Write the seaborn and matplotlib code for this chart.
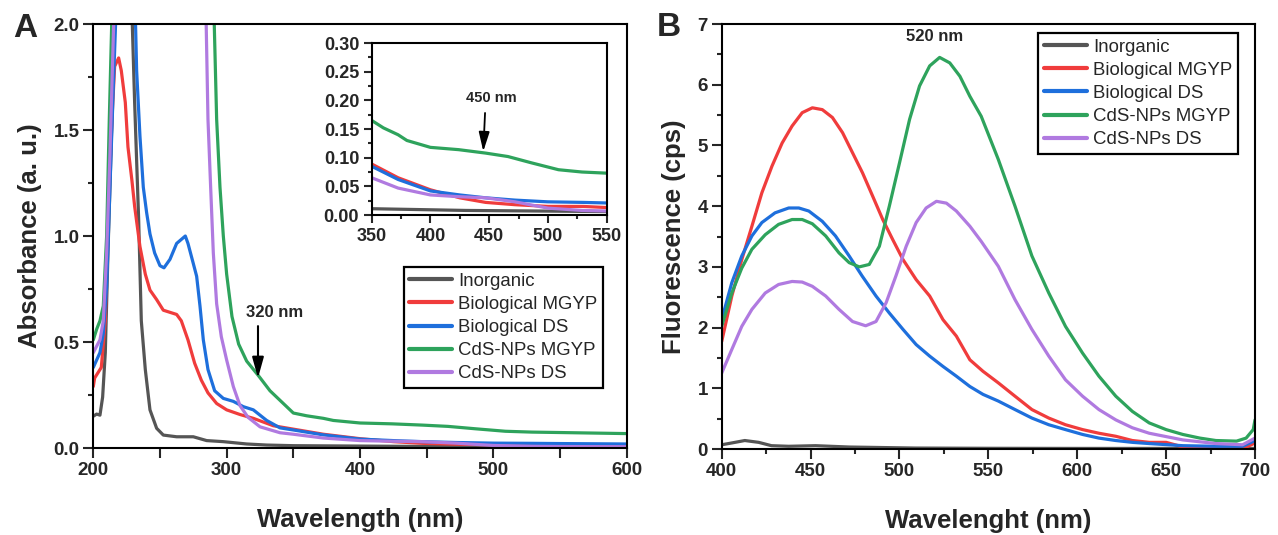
import numpy as np
import pandas as pd
import matplotlib
matplotlib.use("Agg")
import matplotlib.pyplot as plt
from matplotlib.ticker import MultipleLocator
import seaborn as sns

# ---- data ----
samples = ["Inorganic", "Biological MGYP", "Biological DS", "CdS-NPs MGYP", "CdS-NPs DS"]
colors = ["#555555", "#F03C3C", "#1E6FDC", "#2EA35C", "#B07AE0"]

# panel A: UV-vis absorbance
abs_inorg_wl = [200, 202.5, 205, 207, 209, 211, 214, 216, 222, 229, 231, 234, 236, 239, 242.5,
                247.5, 252.5, 262.5, 275, 285, 297.5, 315, 330, 350, 430, 550, 600]
abs_inorg = [0.15, 0.16, 0.155, 0.24, 0.45, 0.92, 1.55, 2.05, 2.6, 2.05, 1.63, 1.08, 0.60, 0.37, 0.18,
             0.093, 0.061, 0.053, 0.053, 0.035, 0.03, 0.019, 0.014, 0.011, 0.008, 0.006, 0.005]

abs_bmgyp_wl = [200, 201, 204, 206, 209, 211, 214, 216, 219, 221, 224, 226, 229, 231, 235, 239, 242.5,
                247.5, 252.5, 257.5, 262.5, 266, 271, 276, 281, 286, 292.5, 300, 310, 320, 335, 350,
                372.5, 400, 425, 447, 472, 500, 530, 550, 600]
abs_bmgyp = [0.29, 0.33, 0.36, 0.38, 0.60, 1.08, 1.55, 1.80, 1.84, 1.78, 1.63, 1.42, 1.26, 1.14, 0.95,
             0.82, 0.745, 0.70, 0.65, 0.64, 0.63, 0.60, 0.51, 0.40, 0.32, 0.26, 0.21, 0.18, 0.158, 0.14,
             0.105, 0.089, 0.065, 0.044, 0.030, 0.022, 0.018, 0.015, 0.015, 0.013, 0.012]

abs_bds_wl = [200, 202.5, 205, 207.5, 210, 212.5, 215, 217, 222, 228, 231.5, 232.5, 235, 237.5, 240,
              242.5, 246, 250, 253, 257.5, 262.5, 269, 271, 275, 277.5, 280, 282.5, 286, 291, 297.5,
              305, 312.5, 320, 330, 340, 350, 372.5, 400, 425, 447, 472, 500, 530, 550, 600]
abs_bds = [0.38, 0.415, 0.45, 0.54, 0.76, 1.23, 1.70, 2.05, 2.6, 2.6, 2.05, 1.78, 1.47, 1.23, 1.11,
           1.01, 0.92, 0.86, 0.85, 0.89, 0.965, 1.00, 0.965, 0.87, 0.81, 0.67, 0.51, 0.37, 0.27, 0.234,
           0.22, 0.195, 0.18, 0.13, 0.095, 0.085, 0.062, 0.042, 0.035, 0.030, 0.026, 0.023, 0.022,
           0.021, 0.019]

abs_cmgyp_wl = [200, 202.5, 205, 207.5, 210, 212, 214, 220, 250, 285, 290.5, 292.5, 295, 297.5, 300,
                304, 309, 315, 324, 332.5, 345, 350, 360, 372.5, 380, 400, 424, 447, 466, 486, 509,
                529, 550, 600]
abs_cmgyp = [0.51, 0.56, 0.60, 0.67, 1.00, 1.55, 2.05, 2.6, 2.6, 2.6, 2.05, 1.55, 1.23, 1.0, 0.82,
             0.62, 0.49, 0.41, 0.34, 0.27, 0.195, 0.165, 0.152, 0.140, 0.13, 0.118, 0.114, 0.108,
             0.102, 0.091, 0.079, 0.075, 0.073, 0.068]

abs_cds_wl = [200, 202.5, 205, 207.5, 210, 212.5, 215.5, 220, 250, 280, 284.5, 286, 288, 290, 292.5,
              296, 300, 305, 310, 316, 325, 340, 350, 372.5, 400, 424, 447, 472, 500, 529, 550, 600]
abs_cds = [0.45, 0.48, 0.51, 0.60, 0.92, 1.39, 2.05, 2.6, 2.6, 2.6, 2.05, 1.55, 1.23, 0.92, 0.68,
           0.525, 0.415, 0.29, 0.20, 0.145, 0.10, 0.072, 0.065, 0.047, 0.035, 0.032, 0.030, 0.023,
           0.012, 0.008, 0.007, 0.006]

# panel B: fluorescence
fl_inorg_wl = [400, 405.7, 413, 420.8, 428, 437.7, 452.8, 471.7, 509, 550, 600, 650, 700]
fl_inorg = [0.07, 0.10, 0.14, 0.11, 0.055, 0.045, 0.055, 0.033, 0.016, 0.012, 0.01, 0.01, 0.01]

fl_bmgyp_wl = [400, 405.7, 411.3, 417, 422.6, 428.3, 434, 439.6, 445.3, 451, 456.6, 462.3, 468, 473.6,
               479.2, 485, 490.6, 496.2, 502, 509.4, 517, 524.5, 532, 539.6, 547, 555.6, 565, 574.5,
               584, 593.4, 603, 612.2, 621.7, 631, 640.5, 650, 660, 680, 695, 700]
fl_bmgyp = [1.77, 2.52, 3.12, 3.67, 4.22, 4.66, 5.04, 5.32, 5.54, 5.62, 5.59, 5.46, 5.21, 4.88, 4.55,
            4.16, 3.78, 3.45, 3.12, 2.79, 2.52, 2.13, 1.86, 1.47, 1.28, 1.09, 0.87, 0.65, 0.51, 0.40,
            0.32, 0.26, 0.21, 0.14, 0.11, 0.11, 0.03, 0.01, 0.03, 0.10]

fl_bds_wl = [400, 405.7, 411.3, 417, 422.6, 430, 437.7, 443.4, 449, 456.6, 464, 471.7, 479, 486.8,
             494.3, 502, 509.4, 517, 524.5, 532, 539.6, 547, 555.6, 565, 574.5, 584, 593.4, 603,
             612.2, 621.7, 631, 640.5, 659.4, 678, 693, 700]
fl_bds = [2.13, 2.74, 3.18, 3.51, 3.73, 3.89, 3.97, 3.97, 3.92, 3.75, 3.51, 3.18, 2.85, 2.52, 2.24,
          1.97, 1.72, 1.53, 1.36, 1.20, 1.03, 0.90, 0.79, 0.65, 0.51, 0.40, 0.32, 0.24, 0.18, 0.14,
          0.11, 0.09, 0.055, 0.045, 0.045, 0.14]

fl_cmgyp_wl = [400, 405.7, 411.3, 417, 424.5, 432, 439.6, 445.3, 451, 458.5, 466, 471.7, 477.4, 483,
               488.7, 494.3, 500, 505.7, 511.3, 517, 522.6, 528.3, 534, 539.6, 546, 555.6, 565, 574.5,
               584, 593.4, 603, 612.2, 621.7, 631, 640.5, 650, 659.4, 669, 678, 689.6, 695, 699, 700]
fl_cmgyp = [2.02, 2.57, 2.98, 3.29, 3.53, 3.70, 3.78, 3.78, 3.71, 3.51, 3.23, 3.07, 3.00, 3.04, 3.34,
            4.0, 4.71, 5.43, 5.98, 6.31, 6.45, 6.36, 6.14, 5.81, 5.48, 4.77, 4.0, 3.18, 2.57, 2.02,
            1.58, 1.20, 0.87, 0.62, 0.43, 0.32, 0.24, 0.18, 0.14, 0.13, 0.18, 0.32, 0.48]

fl_cds_wl = [400, 405.7, 411.3, 417, 424.5, 432, 439.6, 445.3, 451, 458.5, 466, 473.6, 481, 486.8,
             492.5, 498, 503.8, 509.4, 515, 520.8, 526.4, 532, 539.6, 546, 555.6, 565, 574.5, 584,
             593.4, 603, 612.2, 621.7, 631, 640.5, 659.4, 678, 693, 700]
fl_cds = [1.25, 1.64, 2.02, 2.30, 2.57, 2.71, 2.76, 2.75, 2.68, 2.52, 2.30, 2.10, 2.03, 2.10, 2.41,
          2.85, 3.34, 3.73, 3.97, 4.08, 4.05, 3.92, 3.67, 3.42, 3.01, 2.46, 1.97, 1.53, 1.14, 0.87,
          0.65, 0.48, 0.35, 0.26, 0.15, 0.09, 0.07, 0.18]

abs_series = [(abs_inorg_wl, abs_inorg), (abs_bmgyp_wl, abs_bmgyp), (abs_bds_wl, abs_bds),
              (abs_cmgyp_wl, abs_cmgyp), (abs_cds_wl, abs_cds)]
fl_series = [(fl_inorg_wl, fl_inorg), (fl_bmgyp_wl, fl_bmgyp), (fl_bds_wl, fl_bds),
             (fl_cmgyp_wl, fl_cmgyp), (fl_cds_wl, fl_cds)]

# ---- style ----
sns.set_style("ticks")
plt.rcParams["font.family"] = ["Liberation Sans", "DejaVu Sans"]
plt.rcParams["axes.linewidth"] = 1.5

LW = 2.3
fig = plt.figure(figsize=(12.78, 5.35), dpi=100)
axA = fig.add_axes([0.0730, 0.1626, 0.4174, 0.7925])
axB = fig.add_axes([0.5647, 0.1607, 0.4173, 0.7944])
axI = fig.add_axes([0.2908, 0.5981, 0.1839, 0.3215])


def draw(ax, series, legend=True):
    for name, col, (x, y) in zip(samples, colors, series):
        sns.lineplot(x=x, y=y, ax=ax, color=col, lw=LW, label=name if legend else None,
                     estimator=None, sort=False, legend=False)


def style_ticks(ax, size, major_len=7, minor_len=3.5):
    ax.tick_params(which="major", direction="out", length=major_len, width=1.5,
                   labelsize=size, top=False, right=False, pad=3)
    ax.tick_params(which="minor", direction="out", length=minor_len, width=1.5,
                   top=False, right=False)
    for lab in ax.get_xticklabels() + ax.get_yticklabels():
        lab.set_fontweight("bold")
    for sp in ax.spines.values():
        sp.set_visible(True)
        sp.set_linewidth(1.5)
        sp.set_color("black")


def add_legend(ax, **kw):
    leg = ax.legend(borderaxespad=0, fontsize=13.4, frameon=True, fancybox=False,
                    edgecolor="black", framealpha=1, labelspacing=0.33, handlelength=2.3,
                    handletextpad=0.35, borderpad=0.3, **kw)
    leg.get_frame().set_linewidth(1.6)
    for ln in leg.get_lines():
        ln.set_linewidth(3)


# panel A
draw(axA, abs_series)
axA.set_xlim(200, 600)
axA.set_ylim(0, 2.0)
axA.xaxis.set_major_locator(MultipleLocator(100))
axA.xaxis.set_minor_locator(MultipleLocator(50))
axA.yaxis.set_major_locator(MultipleLocator(0.5))
axA.yaxis.set_minor_locator(MultipleLocator(0.25))
style_ticks(axA, 13.5)
axA.tick_params(axis="x", which="minor", length=7)
axA.set_xlabel("Wavelength (nm)", fontsize=18.5, fontweight="bold", labelpad=21)
axA.set_ylabel("Absorbance (a. u.)", fontsize=18.5, fontweight="bold", labelpad=8)
axA.annotate("", xy=(323.5, 0.33), xytext=(323.5, 0.575),
             arrowprops=dict(arrowstyle="-|>,head_length=0.9,head_width=0.25", color="black",
                             lw=1.5, mutation_scale=14, shrinkA=0, shrinkB=0))
axA.text(336, 0.64, "320 nm", fontsize=12, fontweight="bold", ha="center", va="center")
add_legend(axA, loc="lower right", bbox_to_anchor=(0.956, 0.1415))

# inset
draw(axI, abs_series, legend=False)
axI.set_xlim(350, 550)
axI.set_ylim(0, 0.30)
axI.xaxis.set_major_locator(MultipleLocator(50))
axI.xaxis.set_minor_locator(MultipleLocator(25))
axI.yaxis.set_major_locator(MultipleLocator(0.05))
axI.yaxis.set_minor_locator(MultipleLocator(0.025))
axI.yaxis.set_major_formatter(matplotlib.ticker.FormatStrFormatter("%.2f"))
style_ticks(axI, 13, major_len=6, minor_len=3)
axI.set_xlabel("")
axI.set_ylabel("")
axI.annotate("", xy=(445, 0.111), xytext=(446.5, 0.178),
             arrowprops=dict(arrowstyle="-|>,head_length=0.9,head_width=0.25", color="black",
                             lw=1.3, mutation_scale=13, shrinkA=0, shrinkB=0))
axI.text(452, 0.204, "450 nm", fontsize=10.5, fontweight="bold", ha="center", va="center")

# panel B
draw(axB, fl_series)
axB.set_xlim(400, 700)
axB.set_ylim(0, 7)
axB.xaxis.set_major_locator(MultipleLocator(50))
axB.xaxis.set_minor_locator(MultipleLocator(25))
axB.yaxis.set_major_locator(MultipleLocator(1))
axB.yaxis.set_minor_locator(MultipleLocator(0.5))
style_ticks(axB, 13.5)
axB.set_xlabel("Wavelenght (nm)", fontsize=18.5, fontweight="bold", labelpad=21)
axB.set_ylabel("Fluorescence (cps)", fontsize=18.5, fontweight="bold", labelpad=8)
axB.text(519.6, 6.8, "520 nm", fontsize=12, fontweight="bold", ha="center", va="center")
add_legend(axB, loc="upper right", bbox_to_anchor=(0.968, 0.979))

fig.text(13 / 1278, 1 - 37 / 535, "A", fontsize=24, fontweight="bold", va="baseline")
fig.text(657 / 1278, 1 - 36 / 535, "B", fontsize=24, fontweight="bold", va="baseline")

fig.savefig("out.png", dpi=100)
